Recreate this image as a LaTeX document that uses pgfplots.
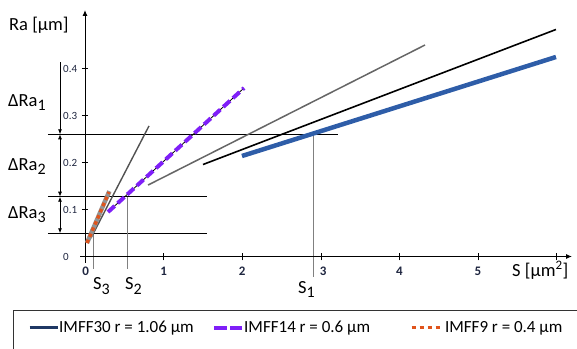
\documentclass[border=0pt]{standalone}
\usepackage{pgfplots}
\pgfplotsset{compat=1.18}
\usepackage{fontspec}
\setmainfont{Carlito}
\usetikzlibrary{arrows.meta}
\definecolor{cblue}{HTML}{2E5DA8}
\definecolor{cnavy}{HTML}{1F3864}
\definecolor{cpurple}{HTML}{7F1FF8}
\definecolor{corange}{HTML}{E0541C}
\definecolor{cgray}{HTML}{666666}
\definecolor{ctick}{HTML}{1F2640}
\newcommand{\sub}[1]{\raisebox{-4.5pt}{\fontsize{16}{16}\selectfont #1}}
\begin{document}
\begin{tikzpicture}[x=1pt,y=1pt]
\path[use as bounding box] (0,0) rectangle (577,348);
\begin{axis}[
  at={(0,0)}, anchor=south west, scale only axis,
  width=577pt, height=348pt,
  xmin=-1.0814, xmax=6.2595, ymin=-0.19468, ymax=0.54574,
  hide axis, clip=false,
  legend columns=3,
  legend style={draw=none, fill=none, at={(axis cs:-0.7252,-0.1521)}, anchor=west,
    font=\fontsize{17}{19}\selectfont, inner sep=0pt, nodes={inner sep=0pt},
    /tikz/column 2/.style={column sep=19pt},
    /tikz/column 4/.style={column sep=40pt},
    /tikz/column 5/.style={column sep=4pt}},
  legend image code/.code={\draw[#1] (0pt,0pt) -- (28pt,0pt);},
]
% reference lines
\addplot[forget plot, black, line width=0.9pt] coordinates {(-0.471,0.26) (3.219,0.26)};
\addplot[forget plot, black, line width=0.9pt] coordinates {(-0.471,0.1272) (1.552,0.1272)};
\addplot[forget plot, black, line width=0.9pt] coordinates {(-0.471,0.0494) (1.552,0.0494)};
\addplot[forget plot, gray, line width=0.9pt] coordinates {(0.102,0.0494) (0.102,-0.0266)};
\addplot[forget plot, gray, line width=0.9pt] coordinates {(0.541,0.1272) (0.541,-0.0266)};
\addplot[forget plot, gray, line width=0.9pt] coordinates {(2.901,0.26) (2.901,-0.0436)};
% axes
\draw[black, line width=1pt, -{Latex[length=6pt,width=5pt]}] (axis cs:0,-0.0138) -- (axis cs:0,0.5245);
\draw[black, line width=1pt, -{Latex[length=6pt,width=5pt]}] (axis cs:-0.0636,0) -- (axis cs:6.196,0);
\draw[black, line width=0.6pt] (axis cs:-0.04,0.1) -- (axis cs:0.04,0.1);
\draw[black, line width=0.6pt] (axis cs:-0.04,0.2) -- (axis cs:0.04,0.2);
\draw[black, line width=0.6pt] (axis cs:-0.04,0.3) -- (axis cs:0.04,0.3);
\draw[black, line width=0.6pt] (axis cs:-0.04,0.4) -- (axis cs:0.04,0.4);
\draw[black, line width=0.6pt] (axis cs:1,-0.008) -- (axis cs:1,0.008);
\draw[black, line width=0.6pt] (axis cs:2,-0.008) -- (axis cs:2,0.008);
\draw[black, line width=0.6pt] (axis cs:3,-0.008) -- (axis cs:3,0.008);
\draw[black, line width=0.6pt] (axis cs:4,-0.008) -- (axis cs:4,0.008);
\draw[black, line width=0.6pt] (axis cs:5,-0.008) -- (axis cs:5,0.008);
\draw[black, line width=0.6pt] (axis cs:6,-0.008) -- (axis cs:6,0.008);
% tick labels
\begin{scope}[every node/.style={font=\fontsize{11}{12}\selectfont, text=ctick, inner sep=0pt, anchor=west}]
\node at (axis cs:-0.28,0.4) {0.4};
\node at (axis cs:-0.28,0.3) {0.3};
\node at (axis cs:-0.28,0.2) {0.2};
\node at (axis cs:-0.28,0.1) {0.1};
\node at (axis cs:-0.28,-0.002) {0};
\end{scope}
\begin{scope}[every node/.style={font=\bfseries\fontsize{13}{14}\selectfont, text=ctick, inner sep=0pt}]
\node at (axis cs:0.01,-0.0309) {0};
\node at (axis cs:1,-0.0309) {1};
\node at (axis cs:2,-0.0309) {2};
\node at (axis cs:3.03,-0.0309) {3};
\node at (axis cs:4,-0.0309) {4};
\node at (axis cs:5,-0.0309) {5};
\end{scope}
% delta arrows
\draw[black, line width=0.8pt, -{Latex[length=5pt,width=4pt]}] (axis cs:-0.318,0.4138) -- (axis cs:-0.318,0.26);
\draw[black, line width=0.8pt, {Latex[length=5pt,width=4pt]}-{Latex[length=5pt,width=4pt]}] (axis cs:-0.318,0.26) -- (axis cs:-0.318,0.1272);
\draw[black, line width=0.8pt, {Latex[length=5pt,width=4pt]}-{Latex[length=5pt,width=4pt]}] (axis cs:-0.318,0.1272) -- (axis cs:-0.318,0.0494);
% labels
\begin{scope}[every node/.style={font=\fontsize{18.5}{20}\selectfont, inner sep=0pt, anchor=base west}]
\node at (axis cs:-0.967,0.4798) {Ra [µm]};
\node at (axis cs:5.433,-0.0415) {S [µm\textsuperscript{2}]};
\node at (axis cs:-0.98,0.3202) {ΔRa\sub{1}};
\node at (axis cs:-0.98,0.184) {ΔRa\sub{2}};
\node at (axis cs:-0.98,0.0819) {ΔRa\sub{3}};
\node at (axis cs:0.102,-0.071) {S\sub{3}};
\node at (axis cs:0.509,-0.071) {S\sub{2}};
\node at (axis cs:2.71,-0.0777) {S\sub{1}};
\end{scope}
% data
\addplot[forget plot, cgray, line width=1.5pt] coordinates {(0.802,0.152) (4.326,0.45)};
\addplot[forget plot, black, line width=1.6pt] coordinates {(1.501,0.1957) (5.992,0.483)};
\addplot[forget plot, cgray!80!black, line width=1.4pt] coordinates {(0.076,0.0394) (0.814,0.2777)};
\addplot[forget plot, gray!85, line width=4.5pt] coordinates {(0.025,0.0287) (0.31,0.139)};
\addplot[forget plot, black, line width=0.8pt] coordinates {(0.293,0.0947) (2.023,0.3585)};
\addplot[forget plot, cblue, line width=4.5pt] coordinates {(1.997,0.2138) (5.992,0.4245)};
\addplot[forget plot, cpurple, line width=4pt, dash pattern=on 9pt off 4pt] coordinates {(0.293,0.0947) (2.023,0.3585)};
\addplot[forget plot, corange, line width=3.5pt, dash pattern=on 3.5pt off 3.2pt] coordinates {(0.025,0.0287) (0.305,0.137)};
\addlegendimage{cnavy, line width=3pt}
\addlegendentry{IMFF30 r = 1.06 µm}
\addlegendimage{cpurple, line width=3.5pt, dash pattern=on 12.5pt off 3.5pt}
\addlegendentry{IMFF14 r = 0.6 µm}
\addlegendimage{corange, line width=3pt, dash pattern=on 4.5pt off 3.5pt}
\addlegendentry{IMFF9 r = 0.4 µm}
% legend frame
\draw[black!80, line width=0.8pt] (axis cs:-0.916,-0.1138) rectangle (axis cs:6.32,-0.2032);
\end{axis}
\end{tikzpicture}
\end{document}
